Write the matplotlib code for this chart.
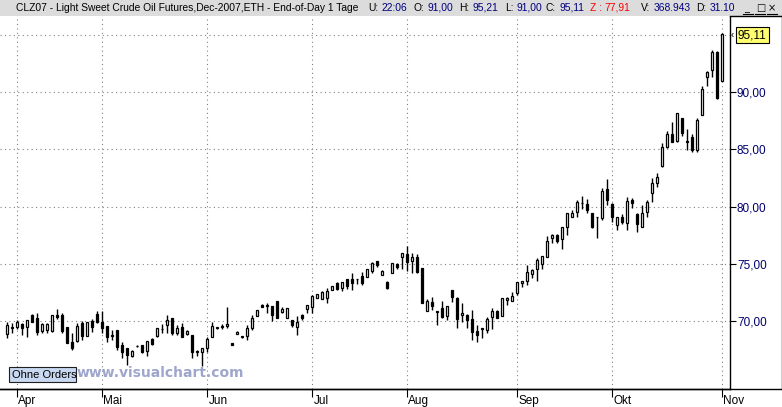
import numpy as np
import matplotlib.pyplot as plt
from matplotlib.patches import Rectangle
from matplotlib.lines import Line2D
from matplotlib.transforms import blended_transform_factory

plt.rcParams['font.family'] = ['Liberation Sans', 'DejaVu Sans']

# Daily OHLC, CLZ07 (Light Sweet Crude Oil, Dec-2007), end of March .. 1 Nov 2007
opens = [
    68.83, 69.45, 69.45, 69.77, 69.45, 70.52, 70.23, 69.13, 69.20, 69.15,
    70.52, 70.52, 69.45, 68.20, 68.28, 69.80, 68.72, 70.03, 70.60, 69.88,
    69.60, 68.80, 69.20, 67.90, 67.60, 66.97, 67.80, 67.90, 67.40, 68.40,
    68.72, 69.27, 69.65, 70.23, 68.92, 69.50, 68.83, 68.78, 67.30, 67.32,
    67.60, 68.63, 69.40, 69.50, 69.56, 68.10, 68.86, 68.60, 68.67, 69.41,
    70.47, 71.42, 71.36, 71.33, 71.72, 70.83, 70.24, 70.09, 69.50, 70.53,
    71.04, 71.21, 72.00, 71.92, 72.00, 72.75, 73.34, 72.90, 73.64, 73.70,
    73.70, 73.94, 73.82, 74.40, 75.22, 74.05, 73.41, 74.17, 74.96, 75.57,
    75.86, 75.25, 75.63, 74.61, 70.85, 71.63, 70.85, 71.10, 70.44, 72.71,
    71.98, 70.50, 70.52, 70.17, 69.15, 69.36, 69.21, 70.38, 70.87, 70.47,
    71.80, 71.75, 72.42, 73.30, 73.53, 74.08, 74.52, 74.99, 75.63, 77.29,
    77.52, 77.14, 78.19, 79.13, 79.56, 80.30, 80.20, 79.48, 79.13, 78.98,
    81.52, 80.23, 78.40, 79.07, 78.60, 80.58, 79.36, 78.19, 79.56, 81.17,
    82.04, 83.59, 85.25, 86.36, 85.77, 87.73, 85.70, 86.06, 84.96, 88.02,
    91.31, 91.95, 93.50, 91.00,
]
highs = [
    69.88, 69.85, 70.10, 69.85, 70.05, 70.60, 70.67, 69.85, 69.85, 70.52,
    71.05, 70.67, 69.45, 68.92, 69.80, 70.00, 69.91, 70.15, 70.90, 70.90,
    69.60, 69.20, 69.20, 68.20, 67.60, 67.46, 67.90, 67.90, 68.25, 68.54,
    69.36, 69.70, 70.52, 70.23, 69.65, 69.80, 69.20, 68.78, 67.50, 67.60,
    68.60, 69.94, 69.50, 69.74, 71.25, 68.10, 69.13, 68.72, 69.64, 70.53,
    70.98, 71.48, 71.57, 71.33, 71.72, 71.27, 71.12, 70.09, 70.44, 70.59,
    71.42, 72.30, 72.37, 72.60, 72.90, 73.10, 73.40, 73.40, 73.64, 74.23,
    73.70, 74.31, 74.52, 75.19, 75.22, 74.46, 73.53, 75.04, 75.04, 75.92,
    76.56, 75.92, 75.86, 74.61, 71.90, 72.13, 70.85, 71.78, 71.34, 72.71,
    72.13, 71.55, 70.61, 70.96, 69.65, 69.36, 70.38, 71.10, 70.96, 72.04,
    72.13, 72.57, 73.38, 73.50, 74.90, 74.55, 75.48, 75.69, 77.43, 77.61,
    77.61, 78.25, 79.42, 79.71, 80.58, 80.93, 80.64, 79.48, 79.13, 81.60,
    82.39, 80.35, 79.13, 79.36, 80.87, 80.73, 79.42, 80.15, 80.58, 82.48,
    82.92, 85.54, 86.62, 87.43, 88.16, 87.73, 86.76, 86.33, 87.73, 90.50,
    91.87, 93.70, 93.62, 95.21,
]
lows = [
    68.48, 68.98, 69.30, 68.75, 68.63, 69.94, 68.78, 68.92, 68.98, 69.07,
    70.15, 68.92, 68.10, 67.46, 68.20, 68.34, 68.72, 69.07, 69.80, 68.92,
    68.20, 68.34, 67.46, 66.73, 66.15, 66.82, 67.70, 67.17, 66.97, 67.90,
    68.63, 68.98, 68.92, 68.80, 68.78, 68.63, 68.78, 66.73, 66.97, 66.06,
    67.30, 68.63, 69.30, 69.30, 69.36, 67.87, 68.83, 68.48, 68.37, 69.20,
    70.47, 71.27, 70.74, 70.00, 70.24, 70.74, 70.24, 69.44, 68.76, 70.09,
    70.74, 70.74, 72.00, 71.92, 71.57, 72.75, 72.69, 72.60, 72.81, 72.75,
    73.20, 73.15, 73.82, 74.17, 74.70, 73.99, 72.77, 74.17, 74.52, 74.52,
    74.40, 74.17, 74.17, 71.55, 70.85, 70.96, 69.65, 70.23, 70.09, 71.63,
    69.36, 69.94, 69.36, 68.34, 68.20, 68.48, 68.92, 69.27, 70.23, 70.47,
    71.40, 71.75, 72.27, 72.94, 73.15, 73.73, 73.50, 74.52, 75.57, 76.85,
    76.85, 76.33, 77.52, 79.13, 79.13, 79.77, 79.42, 78.16, 77.29, 78.83,
    80.15, 78.69, 77.96, 78.48, 77.96, 79.86, 77.81, 78.19, 79.07, 80.44,
    81.75, 83.50, 85.10, 85.69, 85.69, 86.18, 84.96, 84.81, 84.81, 88.02,
    90.50, 91.37, 89.39, 91.00,
]
closes = [
    69.65, 69.35, 69.90, 69.36, 70.05, 69.94, 69.07, 69.74, 69.70, 70.52,
    70.32, 69.15, 68.10, 67.60, 69.56, 68.69, 69.91, 69.50, 69.94, 69.36,
    68.63, 68.70, 67.70, 67.32, 67.03, 67.38, 67.85, 67.30, 68.25, 67.99,
    69.36, 69.33, 70.08, 68.92, 69.42, 68.63, 69.13, 67.32, 67.35, 67.60,
    68.46, 69.56, 69.45, 69.60, 69.77, 67.87, 69.07, 68.66, 69.41, 70.30,
    70.98, 71.27, 71.30, 70.53, 70.24, 71.07, 71.12, 69.64, 69.94, 70.24,
    71.42, 72.16, 72.37, 72.50, 72.60, 73.05, 72.81, 73.40, 73.05, 73.34,
    73.68, 73.29, 74.52, 75.04, 74.90, 74.34, 72.86, 75.04, 74.69, 75.92,
    75.19, 75.57, 74.31, 71.55, 71.78, 71.34, 70.80, 70.38, 71.34, 72.13,
    70.15, 70.73, 70.09, 69.07, 68.78, 69.33, 70.15, 70.90, 70.29, 71.98,
    72.04, 72.19, 73.38, 73.50, 74.26, 74.46, 75.34, 75.69, 77.00, 77.52,
    77.03, 78.25, 79.42, 79.42, 80.44, 80.30, 79.71, 78.25, 79.10, 81.40,
    80.58, 79.13, 79.07, 78.69, 80.52, 80.29, 78.48, 79.42, 80.44, 82.04,
    82.62, 85.25, 86.36, 85.69, 88.16, 86.47, 85.67, 84.96, 87.58, 90.26,
    91.75, 93.50, 89.48, 95.11,
]

monthPos    = [2, 19, 40, 61, 80, 102, 121, 143]
monthLabels = ['Apr', 'Mai', 'Jun', 'Jul', 'Aug', 'Sep', 'Okt', 'Nov']
priceTicks  = [70, 75, 80, 85, 90]
gridLevels  = [70, 75, 80, 85, 90, 95]
lastPrice   = 95.11

# header fields of the title bar: (label, value, colour of label, colour of value)
header = [
    ('U:',  '22:06',   'black', 'navy'),
    ('O:',  '91,00',   'black', 'navy'),
    ('H:',  '95,21',   'black', 'navy'),
    ('L:',  '91,00',   'black', 'navy'),
    ('C:',  '95,11',   'black', 'navy'),
    ('Z :', '77,91',   'red',   'red'),
    ('V:',  '368.943', 'black', 'navy'),
    ('D:',  '31.10',   'black', 'navy'),
]
headerX = [368, 414, 459, 505, 546, 590, 641, 696]

# * * * * * * * * * * * * * * * * * * * * * * * * * * * * * * * * * * * * * *

W, H = 782, 407
def fx(x): return x/W
def fy(y): return 1 - y/H

fig = plt.figure(figsize=(W/100, H/100), dpi=100, facecolor='white')

#- Price panel
ax = fig.add_axes([0, fy(389), fx(730), fy(16) - fy(389)])
ax.set_xlim(-1.34, 144.66)
ax.set_ylim(64.06, 96.66)

for v in gridLevels:
    ax.axhline(v, color='#808080', linestyle=(0, (1, 3)), linewidth=0.8, zorder=1)
for m in monthPos:
    ax.axvline(m, color='#808080', linestyle=(0, (1, 3)), linewidth=0.8, zorder=1)

o = np.array(opens)
c = np.array(closes)
idx = np.arange(len(o))
up = c >= o
bottom = np.minimum(o, c)
height = np.maximum(np.abs(c - o), 0.03)

ax.vlines(idx, lows, highs, color='black', linewidth=1.0, zorder=2)
ax.bar(idx[up], height[up], bottom=bottom[up], width=0.42,
       facecolor='white', edgecolor='black', linewidth=0.9, zorder=3)
ax.bar(idx[~up], height[~up], bottom=bottom[~up], width=0.42,
       facecolor='black', edgecolor='black', linewidth=0.9, zorder=3)

for s in ['left', 'top']:
    ax.spines[s].set_visible(False)
ax.spines['right'].set_linewidth(1.0)
ax.spines['bottom'].set_linewidth(1.0)

ax.yaxis.tick_right()
ax.set_yticks(priceTicks)
ax.set_yticklabels([f'{v:.2f}'.replace('.', ',') for v in priceTicks])
ax.tick_params(axis='y', direction='out', length=4, width=0.8, pad=1,
               labelsize=8.5, labelcolor='#000070')

ax.set_xticks(monthPos)
ax.set_xticklabels([])
ax.tick_params(axis='x', direction='out', length=6, width=0.8)
trans = blended_transform_factory(ax.transData, ax.transAxes)
for m, lab in zip(monthPos, monthLabels):
    ax.text(m + 0.35, -0.017, lab, transform=trans, ha='left', va='top',
            fontsize=8.5, color='black')

#- Last price marker
fig.text(fx(731), fy(35), '\u2039', ha='left', va='center', fontsize=7)
fig.text(fx(738), fy(35), f'{lastPrice:.2f}'.replace('.', ','), ha='left', va='center',
         fontsize=8.5, color='black',
         bbox=dict(boxstyle='square,pad=0.15', facecolor='#ffff70', edgecolor='black', linewidth=0.8))

#- Frame lines
fig.add_artist(Line2D([0, 1], [fy(389), fy(389)], color='black', linewidth=1.0))
fig.add_artist(Line2D([fx(730), fx(782)], [fy(16), fy(16)], color='black', linewidth=1.0))
fig.add_artist(Line2D([fx(781.5), fx(781.5)], [fy(16), fy(389)], color='black', linewidth=1.0))

#- Title bar
fig.add_artist(Rectangle((0, fy(16)), 1, 16/H, transform=fig.transFigure,
                         facecolor='#dcdcdc', edgecolor='none'))
fig.text(fx(16), fy(8), 'CLZ07 - Light Sweet Crude Oil Futures,Dec-2007,ETH - End-of-Day 1 Tage',
         ha='left', va='center', fontsize=7.4, color='black')
fig.canvas.draw()
renderer = fig.canvas.get_renderer()
for (lab, val, c1, c2), x in zip(header, headerX):
    t = fig.text(fx(x), fy(8), lab, ha='left', va='center', fontsize=7.4, color=c1)
    w = t.get_window_extent(renderer).width
    fig.text(fx(x + w + 3), fy(8), val, ha='left', va='center', fontsize=7.4, color=c2)
for x, sym in zip([744, 756, 768], ['_', '\u25a1', '\u00d7']):
    fig.text(fx(x), fy(8), sym, ha='left', va='center', fontsize=7, color='black',
             family=['DejaVu Sans'])
    fig.add_artist(Line2D([fx(x - 1), fx(x + 9)], [fy(14), fy(14)], color='black', linewidth=0.8))

#- Orders box and watermark
fig.add_artist(Rectangle((fx(9), fy(382)), 67/W, 15/H, transform=fig.transFigure,
                         facecolor='#c8d8f0', edgecolor='#202020', linewidth=0.8, zorder=5))
fig.text(fx(12), fy(374.5), 'Ohne Orders', ha='left', va='center', fontsize=8, color='black', zorder=6)
fig.text(fx(77), fy(373), 'www.visualchart.com', ha='left', va='center', fontsize=10,
         fontweight='bold', color='#9ea6cc', family=['DejaVu Sans'], zorder=6)

plt.savefig('out.png', dpi=100)
